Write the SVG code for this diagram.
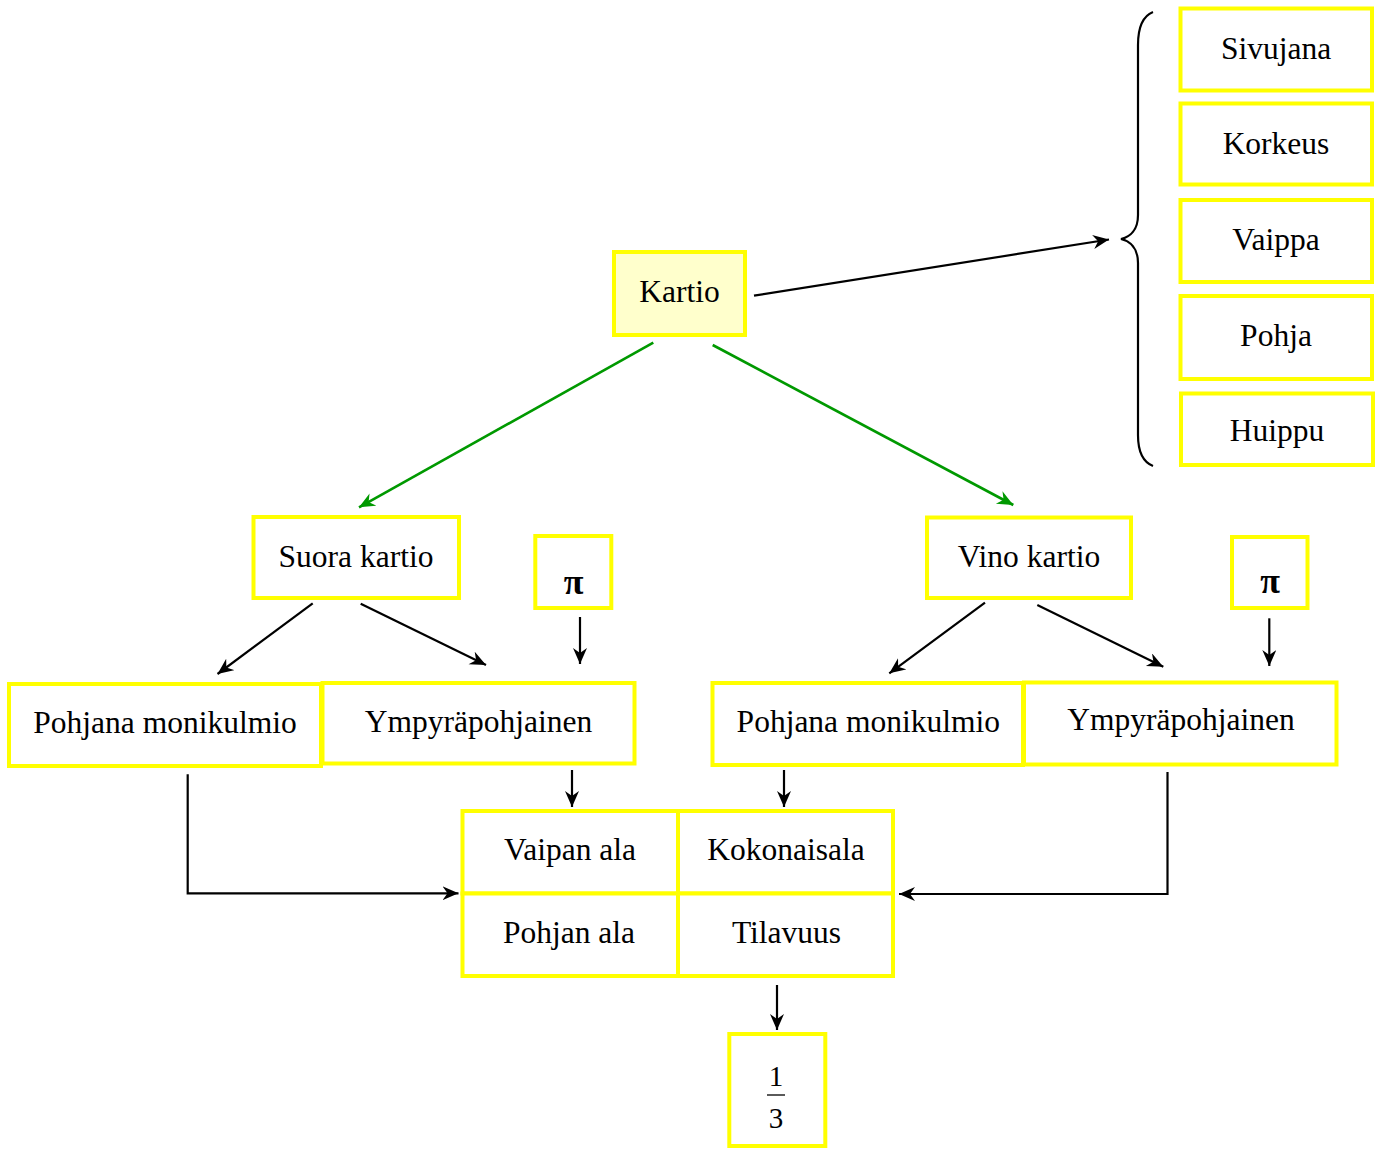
<svg xmlns="http://www.w3.org/2000/svg" width="1386" height="1149" viewBox="0 0 1386 1149">
<style>
.box{fill:#FFFFFF;stroke:#FFFF00;stroke-width:4}
.root{fill:#FFFFCC;stroke:#FFFF00;stroke-width:4}
text{font-family:"Liberation Serif","Times New Roman",serif;font-size:31.5px;fill:#000;text-anchor:middle}
.pi{font-weight:bold;font-size:36px}
.fr{font-size:29px}
.c{fill:none;stroke:#000;stroke-width:2.2}
.g{fill:none;stroke:#009900;stroke-width:2.6}
</style>
<defs>
<marker id="ah" markerUnits="userSpaceOnUse" markerWidth="18" markerHeight="16" refX="16" refY="7" orient="auto">
<path d="M0,0 L16,7 L0,14 L5,7 z" fill="#000"/>
</marker>
<marker id="ahg" markerUnits="userSpaceOnUse" markerWidth="18" markerHeight="16" refX="16" refY="7" orient="auto">
<path d="M0,0 L16,7 L0,14 L5,7 z" fill="#009900"/>
</marker>
</defs>
<rect width="1386" height="1149" fill="#FFFFFF"/>

<g id="connectors">
<line class="c" x1="754" y1="295.7" x2="1109" y2="239.5" marker-end="url(#ah)"/>
<path class="c" d="M1153,12 C1143,16 1138,26 1138,45 L1138,215 C1138,230 1130,237 1121,239 C1130,241 1138,248 1138,263 L1138,435 C1138,452 1143,462 1153,466"/>
<line class="g" x1="653.3" y1="342.7" x2="359" y2="507.3" marker-end="url(#ahg)"/>
<line class="g" x1="712.7" y1="345" x2="1013.3" y2="505" marker-end="url(#ahg)"/>
<line class="c" x1="312.7" y1="603.3" x2="217.5" y2="674" marker-end="url(#ah)"/>
<line class="c" x1="360.7" y1="603.7" x2="486" y2="665" marker-end="url(#ah)"/>
<line class="c" x1="580" y1="617" x2="580" y2="664" marker-end="url(#ah)"/>
<line class="c" x1="985" y1="602.7" x2="889.3" y2="673.3" marker-end="url(#ah)"/>
<line class="c" x1="1037.3" y1="605" x2="1163.3" y2="666.7" marker-end="url(#ah)"/>
<line class="c" x1="1269.3" y1="618.3" x2="1269.3" y2="666" marker-end="url(#ah)"/>
<line class="c" x1="572" y1="770" x2="572" y2="807" marker-end="url(#ah)"/>
<line class="c" x1="784" y1="770" x2="784" y2="807" marker-end="url(#ah)"/>
<polyline class="c" points="187.7,774.3 187.7,893.3 458.5,893.3" marker-end="url(#ah)"/>
<polyline class="c" points="1167.5,772 1167.5,894 899,894" marker-end="url(#ah)"/>
<line class="c" x1="777" y1="985" x2="777" y2="1030" marker-end="url(#ah)"/>
</g>

<g id="kartio"><rect class="root" x="614" y="252" width="131" height="83"/><text x="679.5" y="302">Kartio</text></g>

<g id="sivujana"><rect class="box" x="1180.5" y="8.5" width="191.5" height="82"/><text x="1276" y="59">Sivujana</text></g>
<g id="korkeus"><rect class="box" x="1180.5" y="103.5" width="191.5" height="81"/><text x="1276" y="154">Korkeus</text></g>
<g id="vaippa"><rect class="box" x="1180.5" y="200" width="191.5" height="82"/><text x="1276" y="250">Vaippa</text></g>
<g id="pohja"><rect class="box" x="1180.5" y="296" width="191.5" height="83"/><text x="1276" y="346">Pohja</text></g>
<g id="huippu"><rect class="box" x="1181" y="393.5" width="192" height="71.5"/><text x="1277" y="441">Huippu</text></g>

<g id="suora-kartio"><rect class="box" x="253.5" y="517" width="205.5" height="81"/><text x="356" y="566.7">Suora kartio</text></g>
<g id="pi-left"><rect class="box" x="535.3" y="536" width="76" height="72"/><text class="pi" x="573.5" y="594">π</text></g>
<g id="vino-kartio"><rect class="box" x="927" y="517.5" width="204" height="80.5"/><text x="1029" y="566.7">Vino kartio</text></g>
<g id="pi-right"><rect class="box" x="1232" y="537" width="75.5" height="71"/><text class="pi" x="1270" y="593">π</text></g>

<g id="pohjana-monikulmio-left"><rect class="box" x="9" y="684" width="312" height="82"/><text x="165" y="732.7">Pohjana monikulmio</text></g>
<g id="ympyrapohjainen-left"><rect class="box" x="322.5" y="683" width="312" height="80.5"/><text x="478.5" y="732">Ympyräpohjainen</text></g>
<g id="pohjana-monikulmio-right"><rect class="box" x="712.5" y="683" width="310.5" height="82"/><text x="868.3" y="731.7">Pohjana monikulmio</text></g>
<g id="ympyrapohjainen-right"><rect class="box" x="1024" y="682.5" width="312.5" height="82"/><text x="1181" y="730">Ympyräpohjainen</text></g>

<g id="vaipan-ala"><rect class="box" x="462.5" y="811" width="215.5" height="82.5"/><text x="570" y="860">Vaipan ala</text></g>
<g id="kokonaisala"><rect class="box" x="678" y="811" width="215" height="82.5"/><text x="786" y="860">Kokonaisala</text></g>
<g id="pohjan-ala"><rect class="box" x="462.5" y="893.5" width="215.5" height="82.5"/><text x="569" y="943.3">Pohjan ala</text></g>
<g id="tilavuus"><rect class="box" x="678" y="893.5" width="215" height="82.5"/><text x="786.5" y="943.3">Tilavuus</text></g>

<g id="one-third"><rect class="box" x="729.3" y="1034" width="96" height="112"/>
<text class="fr" x="776" y="1086">1</text>
<line x1="767" y1="1095" x2="785" y2="1095" stroke="#000" stroke-width="1.3"/>
<text class="fr" x="776" y="1128">3</text></g>
</svg>
